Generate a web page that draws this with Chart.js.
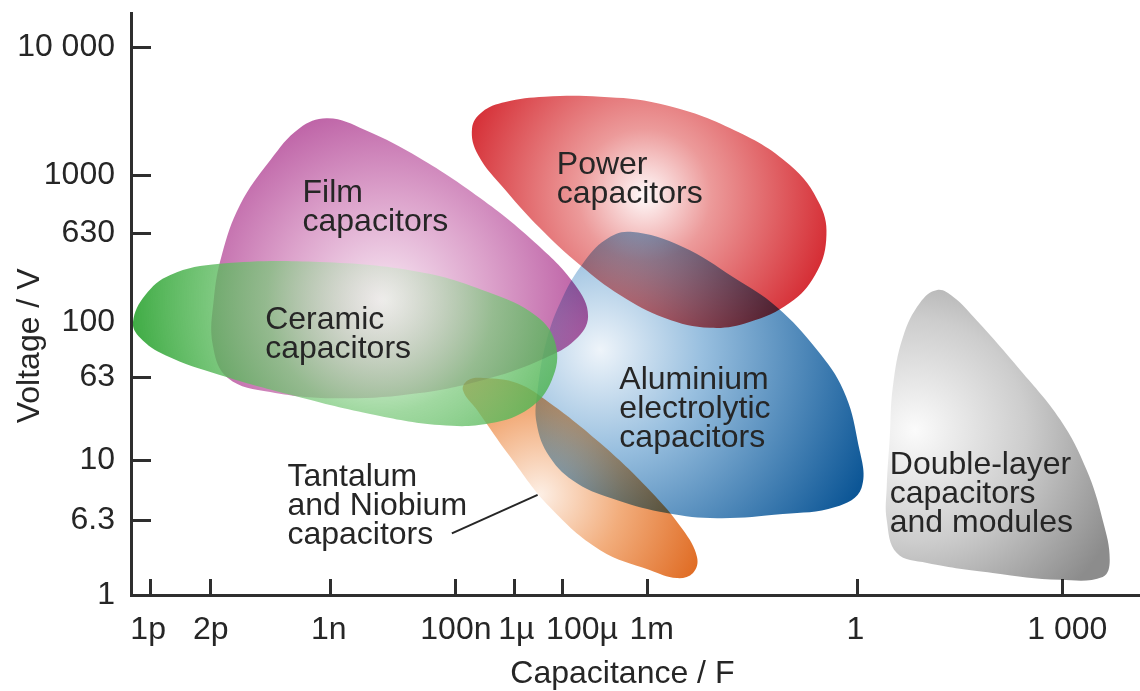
<!DOCTYPE html>
<html>
<head>
<meta charset="utf-8">
<title>Capacitor families: voltage vs capacitance</title>
<script src="https://cdn.jsdelivr.net/npm/chart.js@4.4.1/dist/chart.umd.min.js"></script>
<style>
  html, body { margin: 0; padding: 0; background: #ffffff; }
  #wrap { width: 1140px; height: 691px; position: relative; }
</style>
</head>
<body>
<div id="wrap"><canvas id="chart"></canvas></div>
<script>
// ---- Axis ticks (schematic axes, 0..100 relative units) ----
const capLabels     = ['1p', '2p', '1n', '100n', '1µ', '100µ', '1m', '1', '1 000'];
const capLabelPos   = [1.7, 7.9, 19.6, 32.2, 38.2, 44.7, 51.6, 71.8, 92.8];
const capTickMarks  = [1.9, 7.8, 19.7, 32.1, 38.0, 42.7, 51.1, 72.0, 92.3];

const voltLabels    = ['10 000', '1000', '630', '100', '63', '10', '6.3', '1'];
const voltLabelPos  = [94.2, 72.2, 62.2, 46.9, 37.5, 23.2, 12.9, 0];
const voltTickMarks = [94.2, 72.2, 62.2, 37.5, 23.2, 12.9];

// ---- Region outlines (closed, smoothed) ----
const filmX = [19.5, 23.2, 28.6, 34.6, 40.0, 44.0, 45.3, 44.0, 41.0, 35.6, 28.6, 20.7, 13.8, 9.6, 8.1, 8.2, 9.0, 10.8, 13.8, 16.7];
const filmY = [81.9, 79.9, 75.1, 68.2, 60.6, 53.3, 47.9, 43.8, 40.7, 37.3, 34.7, 33.8, 34.9, 37.3, 43.0, 50.7, 58.4, 67.0, 74.7, 80.2];

const ceramicX = [0.2, 1.4, 3.9, 8.8, 18.7, 28.6, 35.3, 40.2, 42.1, 41.7, 39.5, 35.6, 30.6, 23.7, 15.8, 8.8, 3.4, 0.9];
const ceramicY = [46.9, 51.5, 55.0, 56.9, 57.2, 55.5, 52.1, 47.9, 43.0, 36.9, 32.1, 29.5, 29.2, 31.1, 34.4, 37.8, 41.2, 44.2];

const powerX = [33.8, 34.8, 37.1, 41.0, 46.5, 52.4, 59.4, 65.3, 68.3, 68.9, 67.8, 65.3, 61.3, 57.4, 52.9, 48.5, 44.5, 40.5, 37.1, 34.4];
const powerY = [80.2, 83.0, 84.7, 85.6, 85.6, 84.4, 80.2, 73.9, 67.0, 61.0, 55.0, 50.2, 46.9, 45.9, 47.6, 51.5, 56.7, 63.1, 69.6, 75.6];

const alumX = [49.5, 54.7, 59.7, 64.0, 68.0, 70.6, 72.0, 72.4, 69.8, 64.6, 58.1, 53.1, 48.2, 44.2, 41.5, 40.2, 40.3, 41.2, 42.8, 44.8, 47.0];
const alumY = [62.4, 59.8, 54.6, 49.5, 42.1, 35.2, 26.6, 18.4, 15.1, 13.9, 13.2, 14.1, 16.3, 19.2, 23.7, 29.5, 35.2, 43.8, 51.2, 57.0, 61.0];

const tantalumX = [34.9, 38.3, 41.5, 46.5, 51.4, 54.7, 56.1, 55.7, 54.1, 51.4, 46.5, 41.5, 37.6, 34.3, 32.9, 33.4];
const tantalumY = [37.3, 36.4, 33.0, 26.1, 18.0, 11.2, 6.5, 3.8, 2.9, 4.3, 7.7, 15.1, 23.7, 31.8, 35.2, 36.9];

const doubleX = [79.9, 81.5, 83.8, 88.1, 92.1, 94.7, 96.3, 97.0, 96.3, 92.1, 85.4, 78.9, 75.9, 74.9, 74.9, 75.2, 75.5, 76.5, 78.2];
const doubleY = [52.4, 51.2, 47.2, 38.7, 30.1, 21.5, 12.9, 6.0, 3.1, 2.6, 3.8, 5.5, 7.2, 12.9, 18.6, 27.1, 35.7, 44.3, 50.2];

// ---- Region captions ----
const captions = [
  { lines: ['Film', 'capacitors'],                          x: 17.0, y: [69.1, 64.1] },
  { lines: ['Power', 'capacitors'],                         x: 42.2, y: [73.9, 68.9] },
  { lines: ['Ceramic', 'capacitors'],                       x: 13.3, y: [47.3, 42.3] },
  { lines: ['Aluminium', 'electrolytic', 'capacitors'],     x: 48.4, y: [36.9, 32.0, 27.0] },
  { lines: ['Tantalum', 'and Niobium', 'capacitors'],       x: 15.5, y: [20.3, 15.3, 10.3] },
  { lines: ['Double-layer', 'capacitors', 'and modules'],   x: 75.2, y: [22.3, 17.4, 12.4] }
];
const leader = { from: [31.8, 10.6], to: [40.3, 17.2] };

// ---- Styling ----
const ink = '#262626';
const axisInk = '#2e2e2e';
const fontFamily = '"Liberation Sans", Arial, Helvetica, sans-serif';
const textSize = 32;

// radial shading: centre (x, y), radius in x-units, colour stops, blend mode
const shading = {
  film:     { c: [25.2, 50.7], r: 23, blend: 'multiply',
              stops: [[0, '#f8e8f3'], [0.45, '#dca2cb'], [1, '#b24a98']] },
  ceramic:  { c: [24.7, 50.7], r: 25, blend: 'source-over',
              stops: [[0, 'rgba(222,244,222,0.38)'], [0.45, 'rgba(120,200,120,0.7)'], [1, 'rgba(46,164,52,0.93)']] },
  power:    { c: [50.9, 68.7], r: 20, blend: 'multiply',
              stops: [[0, '#fffafa'], [0.33, '#ec9a9a'], [1, '#d3222a']] },
  alum:     { c: [46.5, 42.1], r: 29, blend: 'multiply',
              stops: [[0, '#eef4fa'], [0.35, '#98bfdf'], [1, '#0c5696']] },
  tantalum: { c: [40.5, 17.2], r: 18, blend: 'multiply',
              stops: [[0, '#fdefe5'], [0.45, '#f2ad7c'], [1, '#de661c']] },
  double:   { c: [77.7, 28.3], r: 22, blend: 'multiply',
              stops: [[0, '#fbfbfb'], [0.5, '#cdcdcd'], [1, '#8c8c8c']] }
};

function zip(xs, ys) { return xs.map((x, i) => ({ x: x, y: ys[i] })); }

function shade(spec) {
  return (context) => {
    const chart = context.chart;
    const sx = chart.scales.x, sy = chart.scales.y;
    if (!chart.chartArea || !sx || !sy) return spec.stops[spec.stops.length - 1][1];
    const cx = sx.getPixelForValue(spec.c[0]);
    const cy = sy.getPixelForValue(spec.c[1]);
    const r = Math.abs(sx.getPixelForValue(spec.r) - sx.getPixelForValue(0));
    const g = chart.ctx.createRadialGradient(cx, cy, 0, cx, cy, r);
    spec.stops.forEach(s => g.addColorStop(s[0], s[1]));
    return g;
  };
}

// A line controller whose outline closes on itself, so the smoothing wraps round.
class RegionController extends Chart.LineController {
  update(mode) {
    super.update(mode);
    const line = this._cachedMeta.dataset;
    line._loop = true;
    line._fullLoop = true;
  }
}
RegionController.id = 'region';
RegionController.defaults = Object.assign({}, Chart.LineController.defaults);
RegionController.overrides = Chart.LineController.overrides;
Chart.register(RegionController);

function region(label, xs, ys, spec) {
  return {
    label: label,
    data: zip(xs, ys),
    fill: 'shape',
    tension: 0.4,
    borderWidth: 0,
    pointRadius: 0,
    pointHoverRadius: 0,
    backgroundColor: shade(spec),
    blend: spec.blend
  };
}

// Tick marks point into the plot; each region gets its blend mode; captions on top.
const decorations = {
  id: 'decorations',
  beforeDatasetsDraw(chart) {
    const ctx = chart.ctx;
    const sx = chart.scales.x, sy = chart.scales.y;
    ctx.save();
    ctx.strokeStyle = axisInk;
    ctx.lineWidth = 3;
    capTickMarks.forEach(v => {
      const px = Math.round(sx.getPixelForValue(v)) + 0.5;
      ctx.beginPath(); ctx.moveTo(px, sy.bottom); ctx.lineTo(px, sy.bottom - 16); ctx.stroke();
    });
    voltTickMarks.forEach(v => {
      const py = Math.round(sy.getPixelForValue(v)) + 0.5;
      ctx.beginPath(); ctx.moveTo(sx.left, py); ctx.lineTo(sx.left + 20, py); ctx.stroke();
    });
    ctx.restore();

    // datasets are painted from the last meta to the first
    this._sequence = chart.getSortedVisibleDatasetMetas().map(m => m.index).reverse();
    ctx.save();
    this._applyBlend(chart, this._sequence[0]);
  },
  _applyBlend(chart, index) {
    if (index === undefined) return;
    chart.ctx.globalCompositeOperation = chart.data.datasets[index].blend || 'source-over';
  },
  afterDatasetDraw(chart, args) {
    const pos = this._sequence.indexOf(args.index);
    this._applyBlend(chart, this._sequence[pos + 1]);
  },
  afterDatasetsDraw(chart) {
    const ctx = chart.ctx;
    ctx.restore();
    const sx = chart.scales.x, sy = chart.scales.y;
    ctx.save();
    ctx.fillStyle = ink;
    ctx.font = textSize + 'px ' + fontFamily;
    ctx.textAlign = 'left';
    ctx.textBaseline = 'middle';
    captions.forEach(c => {
      c.lines.forEach((t, i) => ctx.fillText(t, sx.getPixelForValue(c.x), sy.getPixelForValue(c.y[i])));
    });
    ctx.strokeStyle = ink;
    ctx.lineWidth = 2;
    ctx.beginPath();
    ctx.moveTo(sx.getPixelForValue(leader.from[0]), sy.getPixelForValue(leader.from[1]));
    ctx.lineTo(sx.getPixelForValue(leader.to[0]), sy.getPixelForValue(leader.to[1]));
    ctx.stroke();
    ctx.restore();
  },
  afterDraw(chart) {
    const ctx = chart.ctx;
    const sx = chart.scales.x, sy = chart.scales.y;
    ctx.save();
    ctx.fillStyle = ink;
    ctx.font = textSize + 'px ' + fontFamily;
    ctx.textAlign = 'center';
    ctx.textBaseline = 'middle';
    ctx.fillText('Capacitance / F', sx.getPixelForValue(48.7), chart.height - 17);
    ctx.translate(30, sy.getPixelForValue(42.8));
    ctx.rotate(-Math.PI / 2);
    ctx.fillText('Voltage / V', 0, 0);
    ctx.restore();
  }
};

const tickFont = { family: fontFamily, size: textSize, lineHeight: 1.2 };

new Chart(document.getElementById('chart'), {
  type: 'region',
  data: {
    // painted bottom-up from the end of this list: ceramic ends up on top
    datasets: [
      region('Ceramic capacitors', ceramicX, ceramicY, shading.ceramic),
      region('Film capacitors', filmX, filmY, shading.film),
      region('Aluminium electrolytic capacitors', alumX, alumY, shading.alum),
      region('Tantalum and Niobium capacitors', tantalumX, tantalumY, shading.tantalum),
      region('Power capacitors', powerX, powerY, shading.power),
      region('Double-layer capacitors and modules', doubleX, doubleY, shading.double)
    ]
  },
  options: {
    responsive: true,
    maintainAspectRatio: false,
    animation: false,
    events: [],
    layout: { padding: { top: 13, left: 0, right: 0, bottom: 0 } },
    plugins: {
      legend: { display: false },
      tooltip: { enabled: false },
      title: { display: false }
    },
    scales: {
      x: {
        type: 'linear',
        min: 0,
        max: 100,
        grid: { display: false, drawTicks: false },
        border: { display: true, color: axisInk, width: 3 },
        afterBuildTicks: (scale) => { scale.ticks = capLabelPos.map(v => ({ value: v })); },
        afterFit: (scale) => { scale.height = 96; scale.paddingLeft = 0; scale.paddingRight = 0; },
        ticks: {
          autoSkip: false,
          maxRotation: 0,
          minRotation: 0,
          padding: 16,
          color: ink,
          font: tickFont,
          callback: (value, index) => capLabels[index]
        }
      },
      y: {
        type: 'linear',
        min: 0,
        max: 100,
        grid: { display: false, drawTicks: false },
        border: { display: true, color: axisInk, width: 3 },
        afterBuildTicks: (scale) => { scale.ticks = voltLabelPos.map(v => ({ value: v })); },
        afterFit: (scale) => { scale.width = 131; scale.paddingTop = 0; scale.paddingBottom = 0; },
        ticks: {
          autoSkip: false,
          padding: 16,
          color: ink,
          font: tickFont,
          callback: (value, index) => voltLabels[index]
        }
      }
    }
  },
  plugins: [decorations]
});
</script>
</body>
</html>
